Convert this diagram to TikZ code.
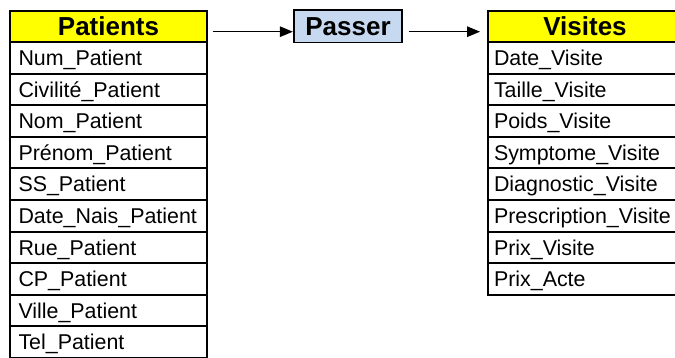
\documentclass[tikz,border=0pt]{standalone}
\usepackage{fontspec}
\setmainfont{Liberation Sans}
\usetikzlibrary{arrows.meta}
\definecolor{hdryellow}{RGB}{255,255,0}
\definecolor{relblue}{RGB}{198,217,241}
\begin{document}
\begin{tikzpicture}[x=1pt,y=-1pt,
  cell/.style={draw, line width=1.9pt, rectangle, minimum height=31.6pt, inner ysep=0pt,
    text height=15.3pt, text depth=0pt, font=\fontsize{21.4}{21.4}\selectfont, align=left},
  pcell/.style={cell, text width=180pt, inner xsep=8.5pt},
  vcell/.style={cell, text width=182pt, inner xsep=6pt},
  hdr/.style={draw, line width=1.9pt, fill=hdryellow, inner sep=0pt,
    text height=19pt, text depth=0pt, font=\fontsize{26}{26}\selectfont\bfseries, align=center},
  arr/.style={line width=1.3pt, -{Triangle[length=13pt,width=10.5pt]}}]
\useasboundingbox (0,0) rectangle (675,358);
% Patients table
\node[hdr, minimum width=197pt, minimum height=31pt] (ph) at (108.5,26.5) {Patients};
\foreach \t [count=\i] in {Num\_Patient, Civilité\_Patient, Nom\_Patient, Prénom\_Patient,
  SS\_Patient, Date\_Nais\_Patient, Rue\_Patient, CP\_Patient, Ville\_Patient, Tel\_Patient}
  \node[pcell] (p\i) at (108.5,{42+(\i-0.5)*31.6}) {\t};
% Relation
\node[hdr, fill=relblue, minimum width=107.4pt, minimum height=32.5pt] (pass) at (348,26.3) {Passer};
% Visites table
\node[hdr, minimum width=194pt, minimum height=31pt] (vh) at (585,26.5) {Visites};
\foreach \t [count=\i] in {Date\_Visite, Taille\_Visite, Poids\_Visite, Symptome\_Visite,
  Diagnostic\_Visite, Prescription\_Visite, Prix\_Visite, Prix\_Acte}
  \node[vcell] (v\i) at (585,{42+(\i-0.5)*31.6}) {\t};
% Arrows
\draw[arr] ([shift={(5,5.2)}]ph.east) -- ([shift={(-0.5,5.4)}]pass.west);
\draw[arr] ([shift={(6,5.4)}]pass.east) -- ([shift={(-7,5.2)}]vh.west);
\end{tikzpicture}
\end{document}
